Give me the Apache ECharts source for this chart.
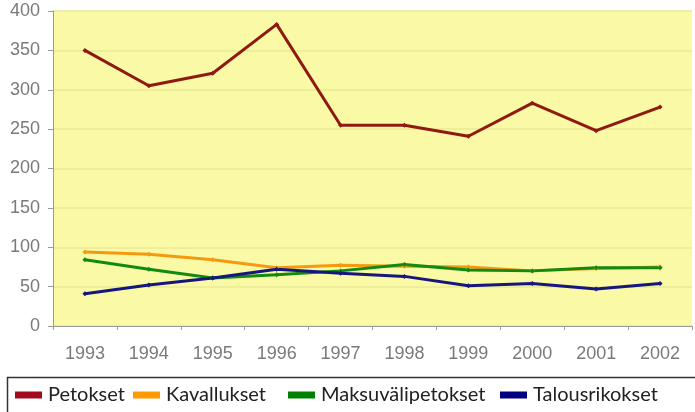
<!DOCTYPE html>
<html>
<head>
<meta charset="utf-8">
<script src="https://cdn.jsdelivr.net/npm/echarts@6/dist/echarts.min.js"></script>
<style>
  html, body { margin: 0; padding: 0; background: #fff; }
  #chart { width: 695px; height: 412px; }
</style>
</head>
<body>
<div id="chart"></div>
<script>
// data
const years = ["1993", "1994", "1995", "1996", "1997", "1998", "1999", "2000", "2001", "2002"];
const petokset = [350, 305, 321, 383, 255, 255, 241, 283, 248, 278];
const kavallukset = [94, 91, 84, 74, 77, 76, 75, 70, 73, 75];
const maksuvalipetokset = [84, 72, 61, 65, 70, 78, 71, 70, 74, 74];
const talousrikokset = [41, 52, 61, 72, 67, 63, 51, 54, 47, 54];
const yTicks = [0, 50, 100, 150, 200, 250, 300, 350, 400];

const names = ["Petokset", "Kavallukset", "Maksuvälipetokset", "Talousrikokset"];
const lineColors = ["#8e1a12", "#f59a10", "#128a12", "#16167e"];
const swatchColors = ["#a00c1c", "#ff9900", "#008000", "#000080"];
const values = [petokset, kavallukset, maksuvalipetokset, talousrikokset];
// left edge of each legend entry
const legendLeft = [15, 133, 288, 500];

const myChart = echarts.init(document.getElementById("chart"));

const option = {
  backgroundColor: "#ffffff",
  animation: false,
  grid: { left: 53, right: 3, top: 11, bottom: 86, show: true, backgroundColor: "#f9f9a6", borderWidth: 0 },
  xAxis: {
    type: "category",
    data: years,
    boundaryGap: true,
    axisLine: { lineStyle: { color: "#9a9a9a", width: 1 } },
    axisTick: { show: true, length: 4, lineStyle: { color: "#9a9a9a" } },
    axisLabel: { color: "#7a7a7a", fontSize: 18, fontFamily: "Arial", margin: 19 }
  },
  yAxis: {
    type: "value",
    min: yTicks[0],
    max: yTicks[yTicks.length - 1],
    interval: 50,
    axisLine: { show: true, lineStyle: { color: "#9a9a9a" } },
    axisTick: { show: true, length: 5, lineStyle: { color: "#9a9a9a" } },
    axisLabel: { color: "#7a7a7a", fontSize: 18, fontFamily: "Arial", margin: 13 },
    splitLine: { lineStyle: { color: "#e8e896", width: 1.5 } }
  },
  legend: names.map((n, i) => ({
    left: legendLeft[i],
    top: 385,
    padding: 0,
    itemWidth: 27,
    itemHeight: 7,
    icon: "rect",
    textStyle: { fontSize: 20, color: "#222", fontFamily: "Lato", padding: [0, 0, 0, 1] },
    data: [{ name: n, itemStyle: { color: swatchColors[i] } }]
  })),
  graphic: [{
    type: "rect",
    left: 5, top: 375,
    shape: { width: 700, height: 50 },
    style: { fill: "none", stroke: "#333", lineWidth: 1.5 },
    z: -1
  }],
  series: names.map((n, i) => ({
    name: n,
    type: "line",
    data: values[i],
    symbol: "diamond",
    symbolSize: 5,
    itemStyle: { color: lineColors[i] },
    lineStyle: { color: lineColors[i], width: 3 }
  }))
};

myChart.setOption(option);
</script>
</body>
</html>
